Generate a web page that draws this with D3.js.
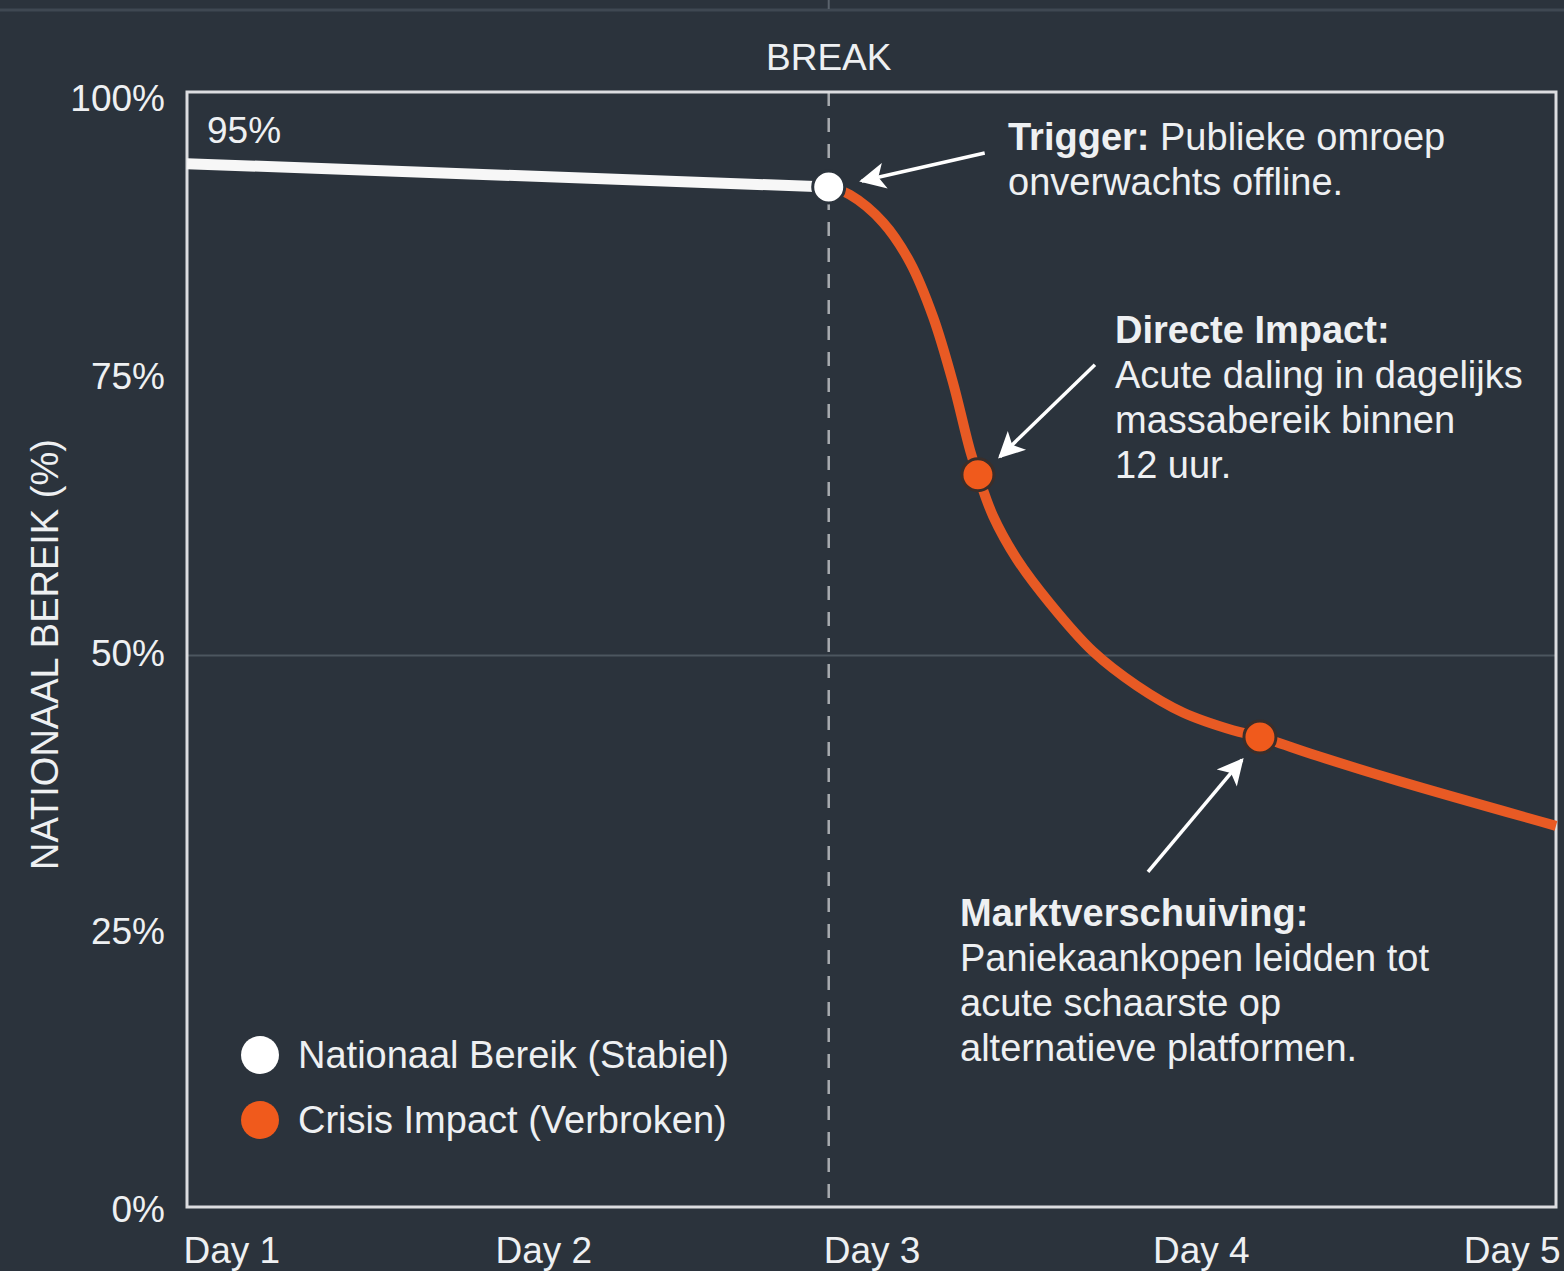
<!DOCTYPE html>
<html>
<head>
<meta charset="utf-8">
<script src="https://cdn.jsdelivr.net/npm/d3@7"></script>
<style>
  html, body { margin: 0; padding: 0; background: #2b333c; }
  svg { display: block; }
  text { font-family: "Liberation Sans", Arial, Helvetica, sans-serif; fill: #eef0f2; }
</style>
</head>
<body>
<svg id="chart" width="1564" height="1271"></svg>
<script>
// ---------- DATA ----------
const dayTicks = [1, 2, 3, 4, 5];
const dayLabels = ["Day 1", "Day 2", "Day 3", "Day 4", "Day 5"];
const yTicks = [0, 25, 50, 75, 100];
const breakDay = 2.875;

// Nationaal Bereik (Stabiel)
const stableDays   = [1, 2.875];
const stableValues = [94.0, 91.9];

// Crisis Impact (Verbroken)
const crisisDays   = [2.875, 2.937, 3.034, 3.113, 3.18, 3.238, 3.288, 3.311, 3.355, 3.425, 3.522, 3.647, 3.776, 3.91, 4.056, 4.135, 4.302, 4.544, 5.0];
const crisisValues = [91.9, 91.2, 88.7, 85.1, 80.2, 74.3, 68.2, 66.0, 62.3, 58.4, 54.4, 50.1, 47.0, 44.6, 43.0, 42.4, 40.7, 38.4, 34.4];

// Highlighted points
const markerDays   = [3.311, 4.135];
const markerValues = [66.0, 42.4];

const legendLabels = ["Nationaal Bereik (Stabiel)", "Crisis Impact (Verbroken)"];
const startLabel = "95%";
const breakLabel = "BREAK";
const yTitle = "NATIONAAL BEREIK (%)";

const annotations = [
  { day: 2.875, value: 91.9, title: "Trigger:", rest: " Publieke omroep", lines: ["onverwachts offline."] },
  { day: 3.311, value: 66.0, title: "Directe Impact:", rest: "", lines: ["Acute daling in dagelijks", "massabereik binnen", "12 uur."] },
  { day: 4.135, value: 42.4, title: "Marktverschuiving:", rest: "", lines: ["Paniekaankopen leidden tot", "acute schaarste op", "alternatieve platformen."] }
];

// ---------- STYLE / LAYOUT ----------
const W = 1564, H = 1271;
const bg = "#2b333c";
const orange = "#e85a24";
const white = "#f7f7f7";
const x = d3.scaleLinear().domain([1, 5]).range([187, 1556]);
const y = d3.scaleLinear().domain([0, 100]).range([1208, 97]);
const frameTop = y(100) - 5, frameBottom = y(0) - 1;

const svg = d3.select("#chart");
svg.append("rect").attr("width", W).attr("height", H).attr("fill", bg);

// remnants of the panel above
svg.append("line").attr("x1", 0).attr("x2", W).attr("y1", 10).attr("y2", 10)
  .attr("stroke", "#3f4852").attr("stroke-width", 3);
svg.append("line").attr("x1", x(breakDay)).attr("x2", x(breakDay)).attr("y1", 0).attr("y2", 9)
  .attr("stroke", "#5a636c").attr("stroke-width", 2);

// 50% gridline
svg.append("line")
  .attr("x1", x(1)).attr("x2", x(5)).attr("y1", y(50) + 3).attr("y2", y(50) + 3)
  .attr("stroke", "#4c565f").attr("stroke-width", 2);

// Break line
svg.append("line")
  .attr("x1", x(breakDay)).attr("x2", x(breakDay)).attr("y1", frameTop).attr("y2", frameBottom)
  .attr("stroke", "#a7abaf").attr("stroke-width", 2.5).attr("stroke-dasharray", "14 12");

// Frame
svg.append("rect")
  .attr("x", x(1)).attr("y", frameTop).attr("width", x(5) - x(1)).attr("height", frameBottom - frameTop)
  .attr("fill", "none").attr("stroke", "#dcdde0").attr("stroke-width", 3);

// Y axis
const yAxis = svg.append("g").attr("transform", `translate(${x(1) - 22},0)`)
  .call(d3.axisLeft(y).tickValues(yTicks).tickFormat(d => d + "%").tickSize(0).tickPadding(0));
yAxis.select(".domain").remove();
yAxis.selectAll("text").style("font-size", "37px").attr("fill", "#e8eaec")
  .attr("dy", "0.36em").attr("font-family", "Liberation Sans, Arial, sans-serif");

// X axis
const xAxis = svg.append("g").attr("transform", `translate(0,${frameBottom})`)
  .call(d3.axisBottom(x).tickValues(dayTicks).tickFormat((d, i) => dayLabels[i]).tickSize(0).tickPadding(0));
xAxis.select(".domain").remove();
xAxis.selectAll("text").style("font-size", "37px").attr("fill", "#e8eaec")
  .attr("y", 56).attr("dy", 0).attr("font-family", "Liberation Sans, Arial, sans-serif")
  .attr("text-anchor", (d, i) => i === 0 ? "start" : (i === dayTicks.length - 1 ? "end" : "middle"))
  .attr("dx", (d, i) => i === 0 ? -4 : (i === dayTicks.length - 1 ? 4 : (i === 1 ? 14 : (i === 3 ? -13 : 0))));

// Y title
svg.append("text")
  .attr("transform", `translate(58,${(y(0) + y(100)) / 2 + 2}) rotate(-90)`)
  .attr("text-anchor", "middle").style("font-size", "38px").attr("fill", "#e8eaec")
  .text(yTitle);

// BREAK label
svg.append("text").attr("x", x(breakDay)).attr("y", 70).attr("text-anchor", "middle")
  .style("font-size", "37px").attr("fill", "#e8eaec").text(breakLabel);

// 95% label
svg.append("text").attr("x", x(1) + 20).attr("y", y(stableValues[0]) - 21)
  .style("font-size", "37px").text(startLabel);

// Lines
const line = d3.line().x(d => x(d[0])).y(d => y(d[1]));
svg.append("path")
  .datum(stableDays.map((d, i) => [d, stableValues[i]]))
  .attr("d", line).attr("fill", "none").attr("stroke", white).attr("stroke-width", 11);

svg.append("path")
  .datum(crisisDays.map((d, i) => [d, crisisValues[i]]))
  .attr("d", line.curve(d3.curveCatmullRom.alpha(0.5))).attr("fill", "none")
  .attr("stroke", orange).attr("stroke-width", 10).attr("stroke-linecap", "butt");

// Markers
svg.append("circle").attr("cx", x(breakDay)).attr("cy", y(stableValues[1])).attr("r", 16)
  .attr("fill", "#ffffff").attr("stroke", bg).attr("stroke-width", 3);
svg.selectAll(".mk").data(markerDays).enter().append("circle")
  .attr("cx", d => x(d)).attr("cy", (d, i) => y(markerValues[i])).attr("r", 16)
  .attr("fill", "#f05a1c").attr("stroke", "#3a2e2a").attr("stroke-width", 3);

// Arrow marker def
const defs = svg.append("defs");
defs.append("marker").attr("id", "ah").attr("viewBox", "0 0 10 10")
  .attr("refX", 9).attr("refY", 5).attr("markerWidth", 9).attr("markerHeight", 7.5)
  .attr("markerUnits", "strokeWidth").attr("orient", "auto")
  .append("path").attr("d", "M0,0 L10,5 L0,10 L2.5,5 Z").attr("fill", "#ffffff");

// Annotations: [tailDx, tailDy, tipDx, tipDy, textX, firstBaseline]
const annLayout = [
  [156, -34, 33, -6, 1008, 150],
  [117, -110, 22, -18, 1115, 343],
  [-112, 135, -18, 23, 960, 926]
];
annotations.forEach((a, i) => {
  const [tx, ty, px, py, textX, base] = annLayout[i];
  const cx = x(a.day), cy = y(a.value);
  svg.append("line")
    .attr("x1", cx + tx).attr("y1", cy + ty).attr("x2", cx + px).attr("y2", cy + py)
    .attr("stroke", "#ffffff").attr("stroke-width", 3.5).attr("marker-end", "url(#ah)");
  const t = svg.append("text").attr("x", textX).attr("y", base).style("font-size", "38px");
  t.append("tspan").attr("font-weight", "bold").text(a.title);
  if (a.rest) t.append("tspan").text(a.rest);
  a.lines.forEach((l, j) => {
    svg.append("text").attr("x", textX).attr("y", base + 45 * (j + 1)).style("font-size", "38px").text(l);
  });
});

// Legend
const legColors = ["#ffffff", "#f05a1c"];
legendLabels.forEach((l, i) => {
  const ly = 1055 + i * 65;
  svg.append("circle").attr("cx", 260).attr("cy", ly).attr("r", 19).attr("fill", legColors[i]);
  svg.append("text").attr("x", 298).attr("y", ly + 13).style("font-size", "38px").text(l);
});
</script>
</body>
</html>
